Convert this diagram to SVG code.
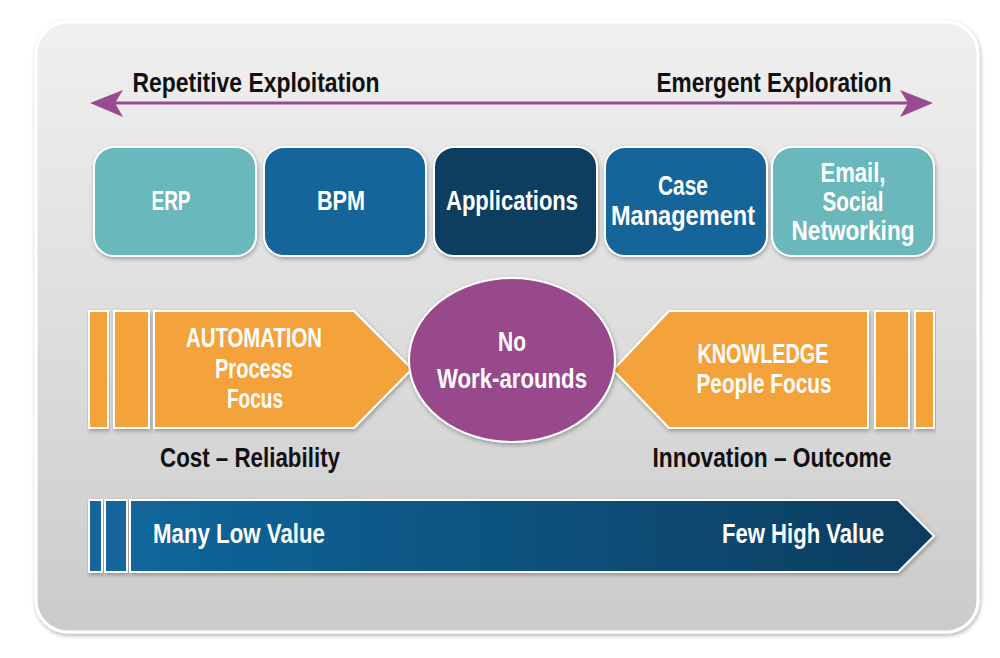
<svg xmlns="http://www.w3.org/2000/svg" width="1000" height="658" viewBox="0 0 1000 658">
<defs>
<linearGradient id="bg" x1="0" y1="0" x2="0" y2="1">
<stop offset="0" stop-color="#f0f0f1"/><stop offset="1" stop-color="#cbcbcb"/>
</linearGradient>
<linearGradient id="blue" x1="0" y1="0" x2="1" y2="0">
<stop offset="0" stop-color="#12669b"/><stop offset="1" stop-color="#0a3c5e"/>
</linearGradient>
<filter id="sh" x="-10%" y="-10%" width="120%" height="130%">
<feDropShadow dx="1" dy="2" stdDeviation="2" flood-color="#000" flood-opacity="0.3"/>
</filter>
</defs>
<style>
.t{font-family:"Liberation Sans",Arial,sans-serif;font-weight:bold;font-size:28px;text-anchor:middle}
.w{fill:#fff}
.k{fill:#111}
.box{stroke:#fff;stroke-width:2;filter:url(#sh)}
.or{fill:#f4a23a;stroke:#fff;stroke-width:2;filter:url(#sh)}
.bl{stroke:#fff;stroke-width:2;filter:url(#sh)}
</style>
<rect x="36" y="22" width="942" height="610" rx="32" fill="url(#bg)" stroke="#fff" stroke-width="3" filter="url(#sh)"/>

<g id="connectors">
<line x1="110" y1="103" x2="913" y2="103" stroke="#9a4a8e" stroke-width="3"/>
<path d="M90,103 L123,90 L115,103 L123,117 Z" fill="#9a4a8e"/>
<path d="M933,103 L900,90 L908,103 L900,117 Z" fill="#9a4a8e"/>
</g>
<g id="axis-labels">
<text class="t k" x="256" y="92" textLength="247" lengthAdjust="spacingAndGlyphs">Repetitive Exploitation</text>
<text class="t k" x="774" y="92" textLength="235" lengthAdjust="spacingAndGlyphs">Emergent Exploration</text>
</g>

<g id="erp">
<rect class="box" x="94" y="147" width="162" height="109" rx="20" fill="#6ab8bc"/>
<text class="t w" x="171" y="210" textLength="39" lengthAdjust="spacingAndGlyphs">ERP</text>
</g>
<g id="bpm">
<rect class="box" x="264" y="147" width="162" height="109" rx="20" fill="#12659a"/>
<text class="t w" x="341" y="210" textLength="48" lengthAdjust="spacingAndGlyphs">BPM</text>
</g>
<g id="applications">
<rect class="box" x="434" y="147" width="163" height="109" rx="20" fill="#0b3d5f"/>
<text class="t w" x="512" y="210" textLength="132" lengthAdjust="spacingAndGlyphs">Applications</text>
</g>
<g id="case">
<rect class="box" x="605" y="147" width="162" height="109" rx="20" fill="#12659a"/>
<text class="t w" x="683" y="195" textLength="50" lengthAdjust="spacingAndGlyphs">Case</text>
<text class="t w" x="683" y="225" textLength="144" lengthAdjust="spacingAndGlyphs">Management</text>
</g>
<g id="email">
<rect class="box" x="772" y="147" width="162" height="109" rx="20" fill="#6ab8bc"/>
<text class="t w" x="853" y="182" textLength="65" lengthAdjust="spacingAndGlyphs">Email,</text>
<text class="t w" x="853" y="211" textLength="61" lengthAdjust="spacingAndGlyphs">Social</text>
<text class="t w" x="853" y="240" textLength="123" lengthAdjust="spacingAndGlyphs">Networking</text>
</g>

<g id="automation">
<rect class="or" x="89" y="311" width="19" height="117"/>
<rect class="or" x="114" y="311" width="35" height="117"/>
<path class="or" d="M154,311 L354,311 L412,369 L354,428 L154,428 Z"/>
<text class="t w" x="254" y="347" textLength="136" lengthAdjust="spacingAndGlyphs">AUTOMATION</text>
<text class="t w" x="254" y="378" textLength="78" lengthAdjust="spacingAndGlyphs">Process</text>
<text class="t w" x="255" y="408" textLength="56" lengthAdjust="spacingAndGlyphs">Focus</text>
</g>
<g id="knowledge">
<rect class="or" x="915" y="311" width="19" height="117"/>
<rect class="or" x="875" y="311" width="34" height="117"/>
<path class="or" d="M868,311 L669,311 L613,370 L669,428 L868,428 Z"/>
<text class="t w" x="763" y="363" textLength="131" lengthAdjust="spacingAndGlyphs">KNOWLEDGE</text>
<text class="t w" x="764" y="393" textLength="135" lengthAdjust="spacingAndGlyphs">People Focus</text>
</g>
<g id="no-workarounds">
<ellipse cx="512" cy="360" rx="103" ry="82" fill="#984a8c" stroke="#fff" stroke-width="2" filter="url(#sh)"/>
<text class="t w" x="512" y="351" textLength="28" lengthAdjust="spacingAndGlyphs">No</text>
<text class="t w" x="512" y="388" textLength="150" lengthAdjust="spacingAndGlyphs">Work-arounds</text>
</g>
<g id="sub-labels">
<text class="t k" x="250" y="467" textLength="180" lengthAdjust="spacingAndGlyphs">Cost – Reliability</text>
<text class="t k" x="772" y="467" textLength="239" lengthAdjust="spacingAndGlyphs">Innovation – Outcome</text>
</g>
<g id="value-bar">
<rect class="bl" x="89" y="500" width="13" height="72" fill="#12669b"/>
<rect class="bl" x="105" y="500" width="22" height="72" fill="#12669b"/>
<path class="bl" d="M130,500 L898,500 L934,536 L898,572 L130,572 Z" fill="url(#blue)"/>
<text class="t w" x="239" y="543" textLength="172" lengthAdjust="spacingAndGlyphs">Many Low Value</text>
<text class="t w" x="803" y="543" textLength="162" lengthAdjust="spacingAndGlyphs">Few High Value</text>
</g>
</svg>
